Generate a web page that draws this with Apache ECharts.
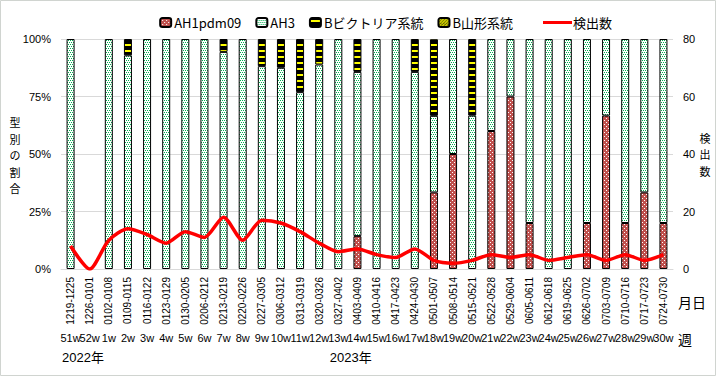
<!DOCTYPE html>
<html><head><meta charset="utf-8">
<script src="https://cdn.jsdelivr.net/npm/echarts@6/dist/echarts.min.js"></script>
<style>html,body{margin:0;padding:0;background:#fff}#c{width:717px;height:377px}</style>
</head><body><div id="c"></div>
<script>
const dateLabels = ['1219-1225','1226-0101','0102-0108','0109-0115','0116-0122','0123-0129','0130-0205','0206-0212','0213-0219','0220-0226','0227-0305','0306-0312','0313-0319','0320-0326','0327-0402','0403-0409','0410-0416','0417-0423','0424-0430','0501-0507','0508-0514','0515-0521','0522-0528','0529-0604','0605-0611','0612-0618','0619-0625','0626-0702','0703-0709','0710-0716','0717-0723','0724-0730'];
const weekLabels = ['51w','52w','1w','2w','3w','4w','5w','6w','7w','8w','9w','10w','11w','12w','13w','14w','15w','16w','17w','18w','19w','20w','21w','22w','23w','24w','25w','26w','27w','28w','29w','30w'];
const yearLabels = ['2022年','2023年'];
const yearStartIndex = [0, 14];
// percentages per type
const ah1pdm09 = [0,0,0,0,0,0,0,0,0,0,0,0,0,0,0,14.3,0,0,0,33.3,50,0,60,75,20,0,0,20,66.7,20,33.3,20];
const ah3 = [100,0,100,92.9,100,100,100,100,94.4,100,88.2,87.5,76.9,88.9,100,71.4,100,100,85.7,33.3,50,66.7,40,25,80,100,100,80,33.3,80,66.7,80];
const bVictoria = [0,0,0,7.1,0,0,0,0,5.6,0,11.8,12.5,23.1,11.1,0,14.3,0,0,14.3,33.3,0,33.3,0,0,0,0,0,0,0,0,0,0];
const bYamagata = [0,0,0,0,0,0,0,0,0,0,0,0,0,0,0,0,0,0,0,0,0,0,0,0,0,0,0,0,0,0,0,0];
const detections = [8,0,10,14,12,9,13,11,18,10,17,16,13,9,6,7,5,4,7,3,2,3,5,4,5,3,4,5,3,5,3,5];
const leftTicks = [0,25,50,75,100];
const rightTicks = [0,20,40,60,80];

function pat(w, h, draw) {
  const c = document.createElement('canvas'); c.width = w; c.height = h;
  const g = c.getContext('2d'); draw(g);
  return { image: c.toDataURL(), repeat: 'repeat' };
}
const pAH1 = pat(4, 4, g => { g.fillStyle = '#C0504D'; g.fillRect(0,0,4,4); g.fillStyle = '#fff'; g.fillRect(0,0,1,1); g.fillRect(2,2,1,1); });
const pAH3 = pat(4, 4, g => { g.fillStyle = '#fff'; g.fillRect(0,0,4,4); g.fillStyle = '#00B050'; g.fillRect(0,0,1,1); g.fillRect(2,0,1,1); g.fillRect(1,2,1,1); g.fillRect(3,2,1,1); });
const pBV = pat(6, 6, g => { g.fillStyle = '#000'; g.fillRect(0,0,6,6); g.fillStyle = '#FFFF00'; g.fillRect(0,2,6,2); });
const pBY = pat(6, 6, g => { g.fillStyle = '#000'; g.fillRect(0,0,6,6); g.strokeStyle = '#FFFF00'; g.lineWidth = 1.5; g.beginPath(); for (let k=-6;k<=12;k+=3){ g.moveTo(k,6); g.lineTo(k+6,0);} g.stroke(); });

const FONT = "'Liberation Sans','Noto Sans CJK JP',sans-serif";
const JFONT = "'Noto Sans CJK JP',sans-serif";
const nz = a => a.map(v => v === 0 ? '-' : v);

function barSeries(name, data, fill) {
  return { name, type: 'bar', stack: 'a', barWidth: 8, data: nz(data),
    itemStyle: { color: fill, borderColor: '#000', borderWidth: 1 }, emphasis: { disabled: true } };
}

const chart = echarts.init(document.getElementById('c'), null, { renderer: 'svg' });
chart.setOption({
  animation: false,
  backgroundColor: '#fff',
  grid: { left: 61, right: 44, top: 39, bottom: 108, containLabel: false },
  legend: [
    { data: ['AH1pdm09','AH3','Bビクトリア系統','B山形系統'], right: 199, top: 11, itemWidth: 11, itemHeight: 9, itemGap: 14,
      textStyle: { fontSize: 13, fontFamily: JFONT, color: '#000', padding: [0,0,0,-2] } },
    { data: [{ name: '検出数', icon: 'rect' }], left: 538, top: 11, itemWidth: 29, itemHeight: 3, itemGap: 4,
      textStyle: { fontSize: 13, fontFamily: JFONT, color: '#000', padding: [0,0,0,-4] } }
  ],
  xAxis: [
    { type: 'category', data: dateLabels, position: 'bottom',
      axisLine: { lineStyle: { color: '#D9D9D9' } },
      axisTick: { length: 76, interval: 0, lineStyle: { color: '#D9D9D9' } },
      axisLabel: { rotate: 90, interval: 0, margin: 8, fontSize: 10, fontFamily: FONT, color: '#000' } },
    { type: 'category', data: weekLabels, position: 'bottom',
      axisLine: { show: false }, axisTick: { show: false },
      axisLabel: { interval: 0, margin: 63, fontSize: 11, fontFamily: FONT, color: '#000' } }
  ],
  yAxis: [
    { type: 'value', min: leftTicks[0], max: leftTicks[leftTicks.length-1], interval: 25,
      axisLine: { show: false }, axisTick: { show: false },
      splitLine: { lineStyle: { color: '#D9D9D9' } },
      axisLabel: { formatter: '{value}%', margin: 10, fontSize: 11, fontFamily: FONT, color: '#000' } },
    { type: 'value', min: rightTicks[0], max: rightTicks[rightTicks.length-1], interval: 20, position: 'right',
      axisLine: { show: false }, axisTick: { show: false }, splitLine: { show: false },
      axisLabel: { margin: 10, fontSize: 11, fontFamily: FONT, color: '#000' } }
  ],
  series: [
    barSeries('AH1pdm09', ah1pdm09, pAH1),
    barSeries('AH3', ah3, pAH3),
    barSeries('Bビクトリア系統', bVictoria, pBV),
    barSeries('B山形系統', bYamagata, pBY),
    { name: '検出数', type: 'line', yAxisIndex: 1, data: detections, smooth: 0.25, symbol: 'none', z: 5,
      lineStyle: { color: '#FF0000', width: 3.5 }, itemStyle: { color: '#FF0000' } }
  ]
});

const c0 = chart.convertToPixel({ xAxisIndex: 0 }, dateLabels[0]);
const c1 = chart.convertToPixel({ xAxisIndex: 0 }, dateLabels[1]);
const band = c1 - c0;
const graphics = [
  { type: 'rect', shape: { x: 0.5, y: 0.5, width: 715, height: 375 }, style: { fill: 'none', stroke: '#D0D4D0', lineWidth: 1 }, silent: true },
  { type: 'text', x: 678, y: 302, style: { text: '月日', fontSize: 14, fontFamily: JFONT, fill: '#000', align: 'left', verticalAlign: 'middle' } },
  { type: 'text', x: 678, y: 339, style: { text: '週', fontSize: 14, fontFamily: JFONT, fill: '#000', align: 'left', verticalAlign: 'middle' } }
];
function vertical(str, x, cy) {
  const chars = Array.from(str), step = 16.5;
  chars.forEach((ch, i) => graphics.push({ type: 'text', x, y: cy + (i - (chars.length - 1) / 2) * step,
    style: { text: ch, fontSize: 11, fontFamily: JFONT, fill: '#000', align: 'center', verticalAlign: 'middle' } }));
}
vertical('型別の割合', 15, 155);
vertical('検出数', 705, 154);
yearLabels.forEach((t, i) => {
  const cx = chart.convertToPixel({ xAxisIndex: 0 }, dateLabels[yearStartIndex[i]]);
  graphics.push({ type: 'text', x: cx - band / 2 + 1, y: 357, style: { text: t, fontSize: 13, fontFamily: FONT, fill: '#000', align: 'left', verticalAlign: 'middle' } });
});
chart.setOption({ graphic: graphics });
</script>
</body></html>
